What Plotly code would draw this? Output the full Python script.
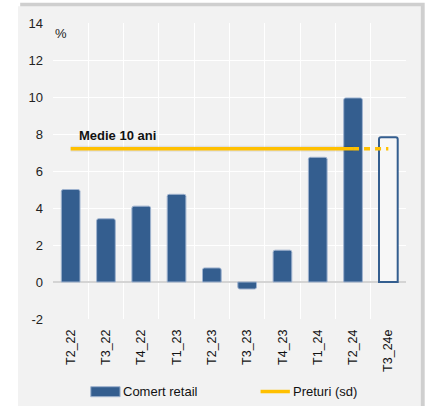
import plotly.graph_objects as go

# data
trimestre = ["T2_22", "T3_22", "T4_22", "T1_23", "T2_23", "T3_23", "T4_23", "T1_24", "T2_24", "T3_24e"]
comert_retail = [5.0, 3.42, 4.1, 4.74, 0.76, -0.38, 1.72, 6.74, 9.95, 7.83]
medie_x = ["T2_22", "T3_22", "T4_22", "T1_23", "T2_23", "T3_23", "T4_23", "T1_24", "T2_24"]
medie_y = [7.2, 7.2, 7.2, 7.2, 7.2, 7.2, 7.2, 7.2, 7.2]
medie_est_x = ["T2_24", "T3_24e"]
medie_est_y = [7.2, 7.2]
y_ticks = [-2, 0, 2, 4, 6, 8, 10, 12, 14]
y_labels = ["-2", "0", "2", "4", "6", "8", "10", "12", "14"]

BLUE = "#345e8f"
YELLOW = "#ffc000"
FONT = "Liberation Sans, Arial, sans-serif"

bar_fill = [BLUE] * (len(trimestre) - 1) + ["#f7f7f7"]
bar_line = ["#9fb3cf"] * (len(trimestre) - 1) + [BLUE]
bar_line_w = [1] * (len(trimestre) - 1) + [2]

fig = go.Figure()

fig.add_trace(go.Bar(
    x=trimestre, y=comert_retail, name="Comert retail",
    marker=dict(color=bar_fill, line=dict(color=bar_line, width=bar_line_w), cornerradius=2),
    width=0.53, showlegend=False,
))

# soft shadow under the average line
fig.add_trace(go.Scatter(
    x=medie_x, y=medie_y, mode="lines",
    line=dict(color="rgba(0,0,0,0.07)", width=6), hoverinfo="skip", showlegend=False,
))
fig.add_trace(go.Scatter(
    x=medie_x, y=medie_y, mode="lines", name="Preturi (sd)",
    line=dict(color=YELLOW, width=3.5), showlegend=False,
))
fig.add_trace(go.Scatter(
    x=medie_est_x, y=medie_est_y, mode="lines",
    line=dict(color=YELLOW, width=3.5, dash="6px,5px"), showlegend=False,
))

fig.add_annotation(
    x="T2_22", y=7.2, xanchor="left", yanchor="bottom", xshift=6, yshift=4,
    text="<b>Medie 10 ani</b>", showarrow=False,
    font=dict(family=FONT, size=13, color="#111"),
)
fig.add_annotation(
    x=0, y=1, xref="paper", yref="paper", xanchor="left", yanchor="top",
    yshift=-1, text="%", showarrow=False,
    font=dict(family=FONT, size=13, color="#222"),
)

# panel background with a drop shadow
fig.add_shape(type="rect", xref="paper", yref="paper", layer="below",
              x0=-0.093, x1=1.053, y0=-0.3, y1=1.068,
              fillcolor="#cfcfcf", line=dict(width=0))
fig.add_shape(type="rect", xref="paper", yref="paper", layer="below",
              x0=-0.099, x1=1.042, y0=-0.3, y1=1.057,
              fillcolor="#f2f2f2", line=dict(width=0))

# legend drawn by hand to get the wide swatches
fig.add_shape(type="rect", xref="paper", yref="paper",
              x0=0.107, x1=0.190, y0=-0.2625, y1=-0.2287,
              fillcolor=BLUE, line=dict(color="#9fb3cf", width=1))
fig.add_annotation(x=0.193, y=-0.245, xref="paper", yref="paper",
                   xanchor="left", yanchor="middle",
                   text="Comert retail", showarrow=False,
                   font=dict(family=FONT, size=13, color="#111"))
fig.add_shape(type="line", xref="paper", yref="paper",
              x0=0.588, x1=0.671, y0=-0.245, y1=-0.245,
              line=dict(color=YELLOW, width=3.5))
fig.add_annotation(x=0.674, y=-0.245, xref="paper", yref="paper",
                   xanchor="left", yanchor="middle",
                   text="Preturi (sd)", showarrow=False,
                   font=dict(family=FONT, size=13, color="#111"))

fig.update_layout(
    width=428, height=406,
    margin=dict(l=53, r=22, t=23, b=87),
    paper_bgcolor="white", plot_bgcolor="#f2f2f2",
    font=dict(family=FONT, size=13, color="#222"),
    showlegend=False,
    bargap=0.47,
)
fig.update_xaxes(
    type="category", tickson="boundaries", showgrid=True, gridcolor="white", gridwidth=1,
    tickangle=-90, ticks="", ticklabelstandoff=7, showline=False,
    range=[-0.5, 9.5], tickfont=dict(size=12.5, color="#111"),
)
fig.update_yaxes(
    range=[-2, 14], tickvals=y_ticks, ticktext=y_labels,
    showgrid=True, gridcolor="white", gridwidth=1,
    zeroline=True, zerolinecolor="#d4d4d4", zerolinewidth=1.5,
    ticks="", ticklabelstandoff=9, showline=False,
    tickfont=dict(size=13, color="#222"),
)

fig.write_html("out.html", config={"displayModeBar": False},
               post_script="document.body.style.margin='0px';")
